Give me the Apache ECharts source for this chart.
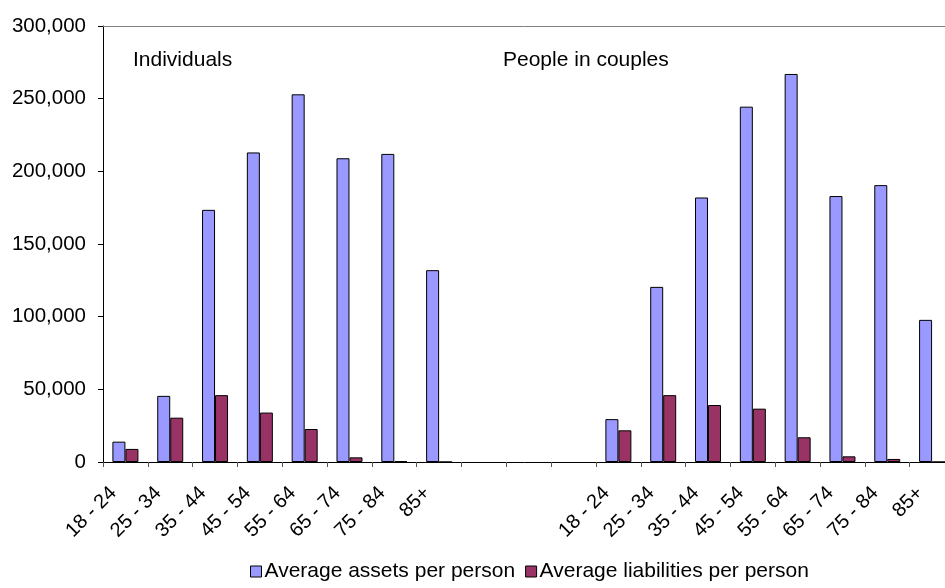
<!DOCTYPE html>
<html>
<head>
<meta charset="utf-8">
<title>Average assets and liabilities per person by age</title>
<script src="https://cdn.jsdelivr.net/npm/echarts@6/dist/echarts.min.js"></script>
<style>
  html, body { margin: 0; padding: 0; background: #ffffff; overflow: hidden; }
  #chart { width: 945px; height: 588px; }
</style>
</head>
<body>
<div id="chart"></div>
<script>
// Age bands used for both household groups
const ageBands = ['18 - 24', '25 - 34', '35 - 44', '45 - 54', '55 - 64', '65 - 74', '75 - 84', '85+'];
// Empty slots separating the two groups on the category axis
const gapSlots = 3;

// Individuals
const individualsAssets = [14000, 45500, 173500, 213000, 253000, 209000, 212000, 132000];
const individualsLiabilities = [9000, 30500, 46000, 34000, 22700, 3200, 600, 0];

// People in couples
const couplesAssets = [29500, 120500, 182000, 244500, 267000, 183000, 190500, 97800];
const couplesLiabilities = [21800, 46000, 39200, 36700, 17000, 3900, 2100, 0];

const yTicks = { min: 0, max: 300000, interval: 50000 };

const seriesNames = ['Average assets per person', 'Average liabilities per person'];
const groupTitles = ['Individuals', 'People in couples'];

// Build the full category axis: group 1, gap, group 2
const gapLabels = new Array(gapSlots).fill('');
const gapValues = new Array(gapSlots).fill(null);
const categories = ageBands.concat(gapLabels, ageBands);
const assets = individualsAssets.concat(gapValues, couplesAssets);
const liabilities = individualsLiabilities.concat(gapValues, couplesLiabilities);

const FONT = '"Liberation Sans", Arial, sans-serif';

const chart = echarts.init(document.getElementById('chart'), null, { renderer: 'canvas' });

chart.setOption({
  backgroundColor: '#ffffff',
  animation: false,
  textStyle: { fontFamily: FONT },
  // the plot runs a little past the right edge of the canvas
  grid: { left: 103, top: 26, width: 851.5, bottom: 126, containLabel: false, outerBoundsMode: 'none' },
  legend: {
    data: seriesNames,
    left: 245,
    top: 556,
    itemWidth: 11,
    itemHeight: 11,
    itemGap: 10,
    icon: 'rect',
    textStyle: { fontFamily: FONT, fontSize: 21, color: '#000000', padding: [0, 0, 0, -2] },
    itemStyle: { borderColor: '#000000', borderWidth: 1 }
  },
  graphic: [
    { type: 'text', x: 133, y: 60, style: { text: groupTitles[0], font: '21px ' + FONT, fill: '#000000', textAlign: 'left', textVerticalAlign: 'middle' } },
    { type: 'text', x: 503, y: 60, style: { text: groupTitles[1], font: '21px ' + FONT, fill: '#000000', textAlign: 'left', textVerticalAlign: 'middle' } }
  ],
  xAxis: [
    {
      type: 'category',
      data: categories,
      boundaryGap: true,
      axisLine: { lineStyle: { color: '#000000', width: 1 } },
      axisTick: { show: true, interval: 0, length: 5, lineStyle: { color: '#555555' } },
      axisLabel: {
        interval: 0,
        rotate: 45,
        margin: 16,
        padding: [0, 17, 0, 0],
        fontFamily: FONT,
        fontSize: 20,
        color: '#000000'
      },
      splitLine: { show: false }
    },
    {
      type: 'category',
      position: 'top',
      data: categories,
      axisLine: { show: true, lineStyle: { color: '#808080', width: 1 } },
      axisTick: { show: false },
      axisLabel: { show: false },
      splitLine: { show: false }
    }
  ],
  yAxis: {
    type: 'value',
    min: yTicks.min,
    max: yTicks.max,
    interval: yTicks.interval,
    axisLine: { show: true, lineStyle: { color: '#000000', width: 1 } },
    axisTick: { show: true, length: 5, lineStyle: { color: '#000000' } },
    axisLabel: {
      margin: 17,
      fontFamily: FONT,
      fontSize: 20.5,
      color: '#000000',
      formatter: function (v) { return v.toLocaleString('en-US'); }
    },
    splitLine: { show: false }
  },
  series: [
    {
      name: seriesNames[0],
      type: 'bar',
      data: assets,
      barWidth: 13,
      barGap: '0%',
      itemStyle: { color: '#9999FF', borderColor: '#000000', borderWidth: 1 }
    },
    {
      name: seriesNames[1],
      type: 'bar',
      data: liabilities,
      barWidth: 13,
      barGap: '0%',
      itemStyle: { color: '#993366', borderColor: '#000000', borderWidth: 1 }
    }
  ]
});
</script>
</body>
</html>
